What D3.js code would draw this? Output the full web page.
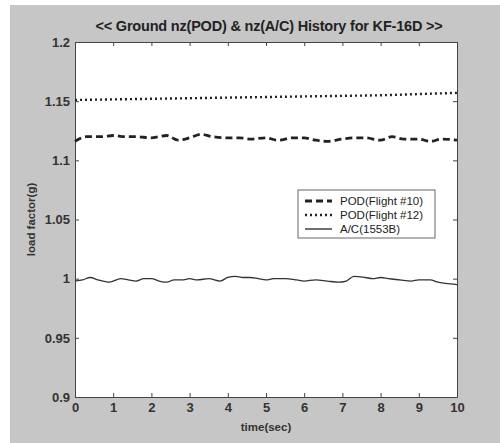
<!DOCTYPE html>
<html><head><meta charset="utf-8">
<script src="https://cdn.jsdelivr.net/npm/d3@7/dist/d3.min.js"></script>
<style>body{margin:0;background:#fff;} svg{display:block;}</style>
</head><body>
<script>
const titleText = "<< Ground nz(POD) & nz(A/C) History for KF-16D >>";
const xTicks = [0,1,2,3,4,5,6,7,8,9,10];
const yTicks = [0.9,0.95,1.0,1.05,1.1,1.15,1.2];
const yTickLabels = ["0.9","0.95","1","1.05","1.1","1.15","1.2"];
const legendLabels = ["POD(Flight #10)","POD(Flight #12)","A/C(1553B)"];

const timeFlight10 = [0,0.3,0.7,1,1.3,1.6,2,2.2,2.4,2.7,3,3.3,3.6,4,4.3,4.6,5,5.3,5.7,6,6.3,6.6,7,7.3,7.6,8,8.3,8.6,9,9.3,9.6,10];
const podFlight10 = [1.116,1.120,1.120,1.121,1.120,1.120,1.119,1.120,1.121,1.117,1.119,1.122,1.120,1.119,1.119,1.118,1.119,1.117,1.119,1.119,1.117,1.116,1.118,1.119,1.119,1.117,1.120,1.118,1.118,1.116,1.118,1.117];

const timeFlight12 = [0,1,2,3,4,5,6,7,8,9,10];
const podFlight12 = [1.151,1.1515,1.152,1.1525,1.153,1.1535,1.154,1.1545,1.155,1.156,1.157];

const timeAC = [0,0.2,0.4,0.6,0.9,1.2,1.4,1.6,1.8,2,2.2,2.4,2.6,2.8,3,3.2,3.5,3.8,4,4.2,4.4,4.6,4.8,5,5.2,5.5,5.8,6,6.3,6.6,6.9,7.1,7.3,7.6,7.8,8,8.2,8.5,8.8,9,9.3,9.5,9.7,10];
const acValues = [0.998,0.999,1.001,0.999,0.997,1.0,0.999,0.998,1.0,1.0,0.998,0.997,0.999,0.999,1.0,0.999,1.0,0.998,1.001,1.002,1.001,1.001,1.0,0.999,1.0,1.0,0.999,0.998,0.999,0.998,0.997,0.998,1.002,1.001,1.0,1.001,1.0,0.999,0.998,0.999,0.999,0.997,0.996,0.995];

const W=500,H=443;
const m={l:75,r:43,t:42,b:46};
const svg=d3.select("body").append("svg").attr("width",W).attr("height",H);
svg.append("rect").attr("width",W).attr("height",H).attr("fill","#fff");
svg.append("rect").attr("x",10).attr("y",5).attr("width",W-10).attr("height",H-5).attr("fill","#c6c6c6");
const x=d3.scaleLinear().domain([0,10]).range([m.l,W-m.r]);
const y=d3.scaleLinear().domain([0.9,1.2]).range([H-m.b,m.t]);
svg.append("rect").attr("x",m.l).attr("y",m.t).attr("width",W-m.r-m.l).attr("height",H-m.b-m.t).attr("fill","#fff");

const font="Liberation Sans, Arial, sans-serif";
const ax=(g)=>{g.selectAll("text").attr("font-family",font).attr("font-size",13).attr("font-weight","bold").attr("fill","#333");g.select(".domain").attr("stroke","#444");g.selectAll(".tick line").attr("stroke","#444");};
svg.append("g").attr("transform",`translate(0,${H-m.b})`).call(d3.axisBottom(x).tickValues(xTicks).tickSize(-4).tickPadding(6).tickSizeOuter(0)).call(ax);
svg.append("g").attr("transform",`translate(0,${m.t})`).call(d3.axisTop(x).tickValues(xTicks).tickSize(-4).tickFormat("").tickSizeOuter(0)).call(ax);
svg.append("g").attr("transform",`translate(${m.l},0)`).call(d3.axisLeft(y).tickValues(yTicks).tickSize(-4).tickPadding(5).tickSizeOuter(0).tickFormat((d,i)=>yTickLabels[i])).call(ax);
svg.append("g").attr("transform",`translate(${W-m.r},0)`).call(d3.axisRight(y).tickValues(yTicks).tickSize(-4).tickFormat("").tickSizeOuter(0)).call(ax);

const line=d3.line().x(d=>x(d[0])).y(d=>y(d[1])).curve(d3.curveMonotoneX);
svg.append("path").datum(timeFlight10.map((t,i)=>[t,podFlight10[i]])).attr("d",line).attr("fill","none").attr("stroke","#222").attr("stroke-width",2.8).attr("stroke-dasharray","7,4");
svg.append("path").datum(timeFlight12.map((t,i)=>[t,podFlight12[i]])).attr("d",line).attr("fill","none").attr("stroke","#222").attr("stroke-width",2.4).attr("stroke-dasharray","2,3");
svg.append("path").datum(timeAC.map((t,i)=>[t,acValues[i]])).attr("d",line).attr("fill","none").attr("stroke","#333").attr("stroke-width",1.3);

svg.append("text").attr("x",(m.l+W-m.r)/2+3).attr("y",31).attr("text-anchor","middle").attr("font-family",font).attr("font-size",14.5).attr("font-weight","bold").attr("fill","#222").attr("letter-spacing",-0.2).text(titleText);
svg.append("text").attr("x",(m.l+W-m.r)/2).attr("y",H-m.b+34).attr("text-anchor","middle").attr("font-family",font).attr("font-size",11.5).attr("font-weight","bold").attr("fill","#333").text("time(sec)");
svg.append("text").attr("transform",`translate(35,${(m.t+H-m.b)/2}) rotate(-90)`).attr("text-anchor","middle").attr("font-family",font).attr("font-size",11.5).attr("font-weight","bold").attr("fill","#333").text("load factor(g)");

const lg=svg.append("g").attr("transform","translate(298,190)");
lg.append("rect").attr("width",137).attr("height",48).attr("fill","#fff").attr("stroke","#666");
const styles=[{w:2.8,d:"7,4"},{w:2.4,d:"2,3"},{w:1.3,d:null}];
legendLabels.forEach((l,i)=>{
  const yy=11+i*14;
  lg.append("line").attr("x1",7).attr("x2",34).attr("y1",yy).attr("y2",yy).attr("stroke","#222").attr("stroke-width",styles[i].w).attr("stroke-dasharray",styles[i].d);
  lg.append("text").attr("x",42).attr("y",yy+4).attr("font-family",font).attr("font-size",11.5).attr("fill","#222").text(l);
});
</script>
</body></html>
